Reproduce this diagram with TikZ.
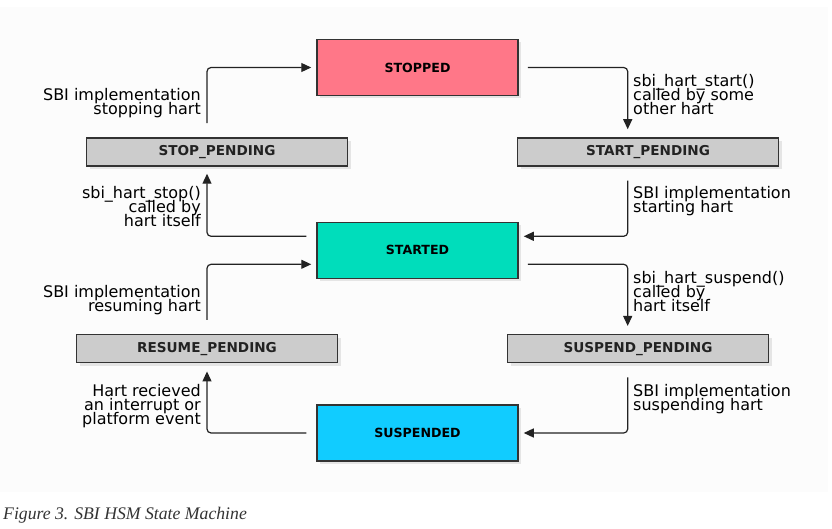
\documentclass[tikz,border=0pt]{standalone}
\usepackage{fontspec}
\setmainfont{DejaVu Sans}
\newfontfamily\capfont{Liberation Serif}
\usetikzlibrary{arrows.meta,shadows,calc}
\definecolor{bgc}{HTML}{FCFCFC}
\definecolor{stopc}{HTML}{FF7788}
\definecolor{startc}{HTML}{00DDBB}
\definecolor{suspc}{HTML}{11CCFF}
\definecolor{pendc}{HTML}{CCCCCC}
\definecolor{edgec}{HTML}{333333}
\definecolor{linec}{HTML}{222222}
\definecolor{capc}{HTML}{333333}
\newcommand\lblfont{\fontsize{16}{14}\selectfont\lineskiplimit=-100pt\relax}
\tikzset{
  statebox/.style={draw=edgec, line width=1.5pt, minimum width=201pt, minimum height=56pt,
    inner sep=0pt, font=\fontsize{12.6}{14}\selectfont\bfseries, text=black,
    drop shadow={shadow xshift=3pt, shadow yshift=-3pt, opacity=0.18}},
  pendbox/.style={draw=edgec, line width=1.5pt, fill=pendc, minimum width=261pt, minimum height=28pt,
    inner sep=0pt, font=\fontsize{13.6}{14}\selectfont\bfseries, text=linec,
    drop shadow={shadow xshift=3pt, shadow yshift=-3pt, opacity=0.18}},
  arr/.style={draw=linec, line width=1.2pt, rounded corners=4pt,
    -{Triangle[length=10pt,width=9pt]}},
  lblL/.style={align=right, anchor=base east, inner sep=0pt, font=\lblfont},
  lblR/.style={align=left, anchor=base west, inner sep=0pt, font=\lblfont},
}
\begin{document}
\begin{tikzpicture}[x=1pt,y=-1pt]
\useasboundingbox (0,0) rectangle (832,529);
\fill[bgc] (0,7) rectangle (828,492);
\coordinate (L) at (207,0);
\coordinate (R) at (627.7,0);
% states
\node[statebox, fill=stopc] (stopped) at (417.5,67.5) {STOPPED};
\node[pendbox] (stoppend) at (217,152) {STOP\_PENDING};
\node[pendbox] (startpend) at (648,152) {START\_PENDING};
\node[statebox, fill=startc] (started) at (417.5,250.3) {STARTED};
\node[pendbox] (respend) at (207,348.7) {RESUME\_PENDING};
\node[pendbox] (susppend) at (638,348.7) {SUSPEND\_PENDING};
\node[statebox, fill=suspc] (suspended) at (417.5,433) {SUSPENDED};
% connectors
\draw[arr, shorten <=14pt, shorten >=5pt] (L |- stoppend.north) |- (stopped.west);
\draw[arr, shorten <=10pt, shorten >=7pt] ([yshift=14pt]started.west) -| (L |- stoppend.south);
\draw[arr, shorten <=9pt, shorten >=8pt] (stopped.east) -| (R |- startpend.north);
\draw[arr, shorten <=14pt, shorten >=5pt] (R |- startpend.south) |- ([yshift=14pt]started.east);
\draw[arr, shorten <=9pt, shorten >=8pt] ([yshift=-14pt]started.east) -| (R |- susppend.north);
\draw[arr, shorten <=14pt, shorten >=5pt] (R |- susppend.south) |- (suspended.east);
\draw[arr, shorten <=10pt, shorten >=8pt] (suspended.west) -| (L |- respend.south);
\draw[arr, shorten <=14pt, shorten >=5pt] (L |- respend.north) |- ([yshift=-14pt]started.west);
% labels (anchor = baseline of last line)
\node[lblL] (l1) at (201,114.7) {SBI implementation\\stopping hart};
\node[lblL] (l2) at (201,226.3) {sbi\_hart\_stop()\\called by\\hart itself};
\node[lblL] (l3) at (201,311.3) {SBI implementation\\resuming hart};
\node[lblL] (l4) at (201,424) {Hart recieved\\an interrupt or\\platform event};
\node[lblR] (r1) at (633,114.7) {sbi\_hart\_start()\\called by some\\other hart};
\node[lblR] (r2) at (633,213) {SBI implementation\\starting hart};
\node[lblR] (r3) at (633,311.3) {sbi\_hart\_suspend()\\called by\\hart itself};
\node[lblR] (r4) at (633,410) {SBI implementation\\suspending hart};
% caption
\node[anchor=base west, inner sep=0pt, text=capc, font=\capfont\itshape\fontsize{17.7}{20}\selectfont] (cap) at (3,519) {Figure 3. SBI HSM State Machine};
\end{tikzpicture}
\end{document}
